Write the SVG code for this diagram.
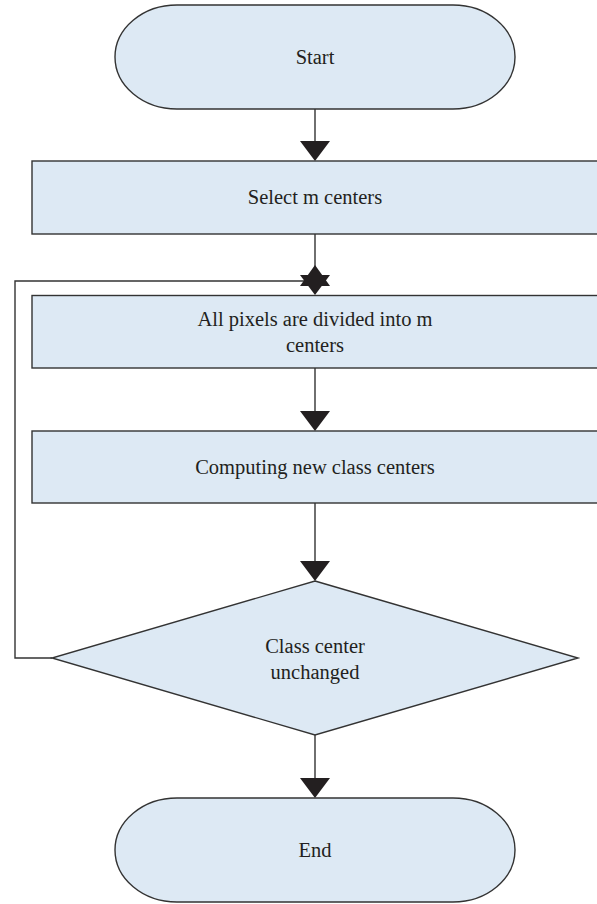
<svg xmlns="http://www.w3.org/2000/svg" width="597" height="904" viewBox="0 0 597 904">
<style>
.node{fill:#dde9f4;stroke:#333;stroke-width:1.4}
.lbl{font-family:"Liberation Serif","Times New Roman",serif;font-size:20.5px;fill:#231f20;text-anchor:middle;dominant-baseline:central}
.conn{fill:none;stroke:#333;stroke-width:1.4}
.head{fill:#231f20}
</style>
<rect width="597" height="904" fill="#fff"/>
<g id="connectors">
<line class="conn" x1="315" y1="109" x2="315" y2="145"/>
<polygon class="head" points="300,141 330,141 315,161"/>
<line class="conn" x1="315" y1="234" x2="315" y2="278"/>
<polyline class="conn" points="52,658 15,658 15,281 305,281"/>
<polygon class="head" points="300,275 330,275 315,295"/>
<polygon class="head" points="315,265 300,286 330,286"/>
<line class="conn" x1="315" y1="368" x2="315" y2="415"/>
<polygon class="head" points="300,411 330,411 315,431"/>
<line class="conn" x1="315" y1="503" x2="315" y2="565"/>
<polygon class="head" points="300,561 330,561 315,581"/>
<line class="conn" x1="315" y1="735" x2="315" y2="782"/>
<polygon class="head" points="300,778 330,778 315,798"/>
</g>
<g id="start">
<rect class="node" x="115" y="5" width="400" height="104" rx="62" ry="52"/>
<text class="lbl" x="315" y="57">Start</text>
</g>
<g id="select">
<rect class="node" x="32" y="161" width="568" height="73"/>
<text class="lbl" x="315" y="197">Select m centers</text>
</g>
<g id="divide">
<rect class="node" x="32" y="295.5" width="568" height="72.5"/>
<text class="lbl" x="315" y="319">All pixels are divided into m</text>
<text class="lbl" x="315" y="345">centers</text>
</g>
<g id="compute">
<rect class="node" x="32" y="431" width="568" height="72"/>
<text class="lbl" x="315" y="467">Computing new class centers</text>
</g>
<g id="decision">
<polygon class="node" points="315,581 578,658 315,735 52,658"/>
<text class="lbl" x="315" y="646">Class center</text>
<text class="lbl" x="315" y="672">unchanged</text>
</g>
<g id="end">
<rect class="node" x="115" y="798" width="400" height="104" rx="62" ry="52"/>
<text class="lbl" x="315" y="850">End</text>
</g>
</svg>
